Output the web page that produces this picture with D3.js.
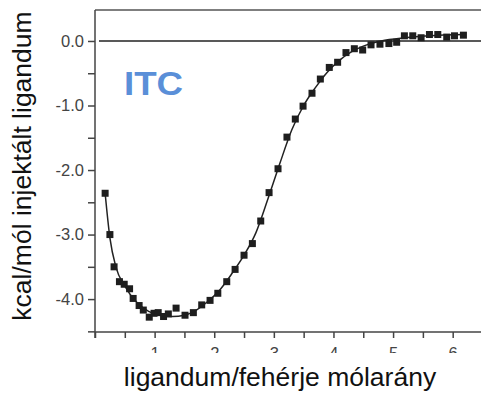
<!DOCTYPE html>
<html>
<head>
<meta charset="utf-8">
<script src="https://cdn.jsdelivr.net/npm/d3@7"></script>
<style>
  body { margin: 0; background: #fff; }
  text { font-family: "Liberation Sans", Arial, sans-serif; }
</style>
</head>
<body>
<div id="chart"></div>
<script>
// measured points (molar ratio, kcal/mol)
var ratio = [0.17, 0.25, 0.32, 0.41, 0.49, 0.58, 0.64, 0.74, 0.81, 0.91, 0.99, 1.06, 1.15, 1.23,
  1.36, 1.51, 1.65, 1.79, 1.93, 2.06, 2.21, 2.35, 2.50, 2.64, 2.78, 2.92, 3.07, 3.22, 3.36,
  3.49, 3.64, 3.78, 3.93, 4.07, 4.21, 4.35, 4.49, 4.63, 4.78, 4.93, 5.06, 5.19, 5.33, 5.47,
  5.61, 5.75, 5.90, 6.03, 6.18];
var heat = [-2.36, -3.00, -3.50, -3.73, -3.77, -3.84, -3.99, -4.10, -4.17, -4.28, -4.22, -4.21,
  -4.27, -4.23, -4.14, -4.25, -4.21, -4.09, -4.02, -3.91, -3.73, -3.54, -3.32, -3.14, -2.79,
  -2.35, -1.98, -1.49, -1.21, -1.01, -0.81, -0.59, -0.41, -0.33, -0.18, -0.12, -0.14, -0.06,
  -0.05, -0.04, -0.02, 0.08, 0.08, 0.05, 0.10, 0.10, 0.06, 0.08, 0.09];

// fitted curve
var fitX = [0.17, 0.25, 0.35, 0.5, 0.7, 0.9, 1.1, 1.3, 1.5, 1.7, 1.9, 2.1, 2.3, 2.5, 2.7, 2.9,
  3.1, 3.3, 3.5, 3.7, 3.9, 4.1, 4.3, 4.5, 4.8, 5.2, 5.6, 6.2];
var fitY = [-2.36, -3.05, -3.50, -3.80, -4.05, -4.19, -4.25, -4.27, -4.25, -4.17, -4.03, -3.85,
  -3.60, -3.32, -2.97, -2.45, -1.90, -1.38, -1.00, -0.72, -0.48, -0.30, -0.17, -0.08, 0.00,
  0.05, 0.08, 0.10];

var xTicks = [1, 2, 3, 4, 5, 6];
var yTicks = [0, -1, -2, -3, -4];

var width = 481,
    height = 395;

var svg = d3.select("#chart").append("svg")
    .attr("width", width)
    .attr("height", height)

var xScale = d3.scaleLinear().domain([0, 6.5]).range([95, 482.5]),
    yScale = d3.scaleLinear().domain([-4.51, 0.48]).range([332, 10]);

var axisColor = '#444';

// frame top line
svg.append('line')
    .attr('x1', 95).attr('x2', width)
    .attr('y1', yScale(0.48)).attr('y2', yScale(0.48))
    .attr('stroke', '#555').attr('stroke-width', 1.5)

// zero line
svg.append('line')
    .attr('x1', 99).attr('x2', width)
    .attr('y1', yScale(0)).attr('y2', yScale(0))
    .attr('stroke', '#222').attr('stroke-width', 1.5)

// y axis
var yAxis = d3.axisLeft(yScale)
    .tickValues(d3.range(-4.5, 0.01, 0.5))
    .tickSize(7)
    .tickFormat(function(d) { return yTicks.indexOf(d) >= 0 ? d3.format('.1f')(d) : ''; });

var gy = svg.append('g')
    .attr('transform', 'translate(95,0)')
    .call(yAxis);
gy.select('.domain').attr('d', 'M0,' + yScale(0.48) + 'V338');
gy.selectAll('line,path').attr('stroke', axisColor).attr('stroke-width', 1.5);
gy.selectAll('text')
    .attr('font-size', 16.5)
    .attr('fill', '#444')
    .attr('x', -11)
    .text(function(d) { return yTicks.indexOf(d) >= 0 ? d3.format('.1f')(d).replace('−', '-') : ''; });

// x axis (labels cut at bottom as in the source)
svg.append('clipPath').attr('id', 'xcutLocal')
    .append('rect').attr('x', -20).attr('y', -20).attr('width', 40).attr('height', 41);

var xAxis = d3.axisBottom(xScale)
    .tickValues(d3.range(0, 6.51, 0.5))
    .tickSize(6)
    .tickFormat(function(d) { return xTicks.indexOf(d) >= 0 ? d : ''; });

var gx = svg.append('g')
    .attr('transform', 'translate(0,332)')
    .call(xAxis);
gx.select('.domain').attr('d', 'M95,0H' + width);
gx.selectAll('line,path').attr('stroke', axisColor).attr('stroke-width', 1.5);
gx.selectAll('.tick')
    .attr('clip-path', 'url(#xcutLocal)');
gx.selectAll('text')
    .attr('font-size', 16.5)
    .attr('fill', '#444')
    .attr('y', 15);

// fit line
var line = d3.line()
    .x(function(d, i) { return xScale(fitX[i]); })
    .y(function(d, i) { return yScale(fitY[i]); })
    .curve(d3.curveMonotoneX);

svg.append('path')
    .datum(fitX)
    .attr('d', line)
    .attr('fill', 'none')
    .attr('stroke', '#222')
    .attr('stroke-width', 1.5);

// squares
var sq = 7;
svg.append('g').selectAll('rect')
    .data(ratio)
    .enter()
    .append('rect')
    .attr('x', function(d) { return xScale(d) - sq / 2; })
    .attr('y', function(d, i) { return yScale(heat[i]) - sq / 2; })
    .attr('width', sq)
    .attr('height', sq)
    .attr('fill', '#1e1e1e');

// ITC label
svg.append('text')
    .attr('transform', 'translate(124,95) scale(1.13,1)')
    .attr('font-size', 32.5)
    .attr('font-weight', 'bold')
    .attr('fill', '#5a8fd8')
    .text('ITC');

// axis titles
svg.append('text')
    .attr('transform', 'translate(31,166) rotate(-90)')
    .attr('text-anchor', 'middle')
    .attr('font-size', 26.5)
    .attr('fill', '#111')
    .text('kcal/mól injektált ligandum');

svg.append('text')
    .attr('x', 280)
    .attr('y', 386)
    .attr('text-anchor', 'middle')
    .attr('font-size', 26.5)
    .attr('fill', '#111')
    .text('ligandum/fehérje mólarány');
</script>
</body>
</html>
